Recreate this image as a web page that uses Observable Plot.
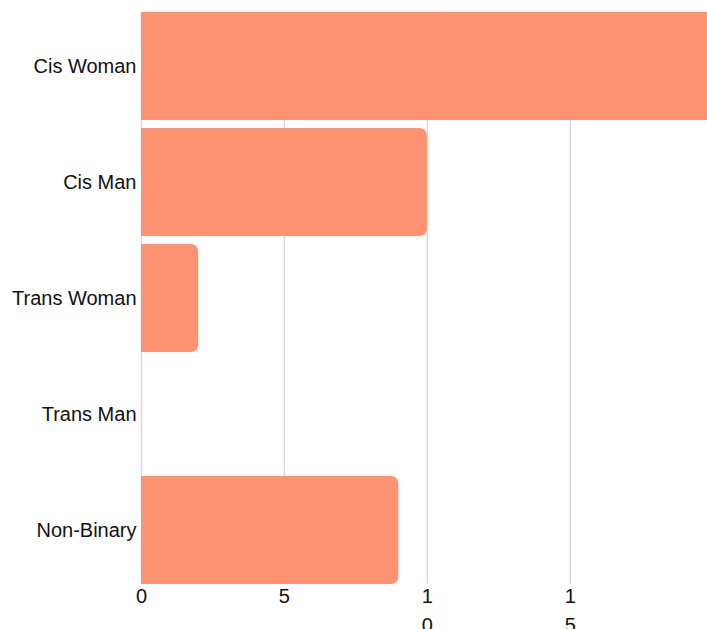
<!DOCTYPE html>
<html>
<head>
<meta charset="utf-8">
<script src="https://cdn.jsdelivr.net/npm/d3@7"></script>
<script src="https://cdn.jsdelivr.net/npm/@observablehq/plot@0.6"></script>
<style>
  html, body { margin: 0; padding: 0; background: #fff; overflow: hidden; }
  #chart svg { display: block; }
</style>
</head>
<body>
<div id="chart"></div>
<script>
const categories = ["Cis Woman", "Cis Man", "Trans Woman", "Trans Man", "Non-Binary"];
const counts = [21, 10, 2, 0, 9];
const xTicks = [0, 5, 10, 15];

const data = categories.map((c, i) => ({category: c, count: counts[i]}));

const chart = Plot.plot({
  width: 707,
  height: 629,
  marginTop: 12,
  marginBottom: 45,
  marginLeft: 141,
  marginRight: 0,
  style: {fontFamily: "'Liberation Sans', Arial, sans-serif", fontSize: "20px", color: "#111"},
  x: {domain: [0, 19.8], ticks: xTicks},
  y: {domain: categories, paddingInner: 0.069, paddingOuter: 0, round: false, label: null},
  marks: [
    Plot.gridX(xTicks, {stroke: "#d9d9d9", strokeOpacity: 1, strokeWidth: 1.5}),
    Plot.barX(data, {y: "category", x1: 0, x2: "count", fill: "#ff9273", rx: 7, clip: true}),
    Plot.barX(data, {y: "category", x1: 0, x2: d => d.count / 2, fill: "#ff9273", clip: true}),
    Plot.axisX({ticks: xTicks, tickSize: 0, tickPadding: -2, lineHeight: 1.45, label: null,
      tickFormat: d => String(d).split("").join("\n"), fontSize: 20}),
    Plot.axisY({tickSize: 0, tickPadding: 5, label: null, fontSize: 20})
  ]
});
document.getElementById("chart").appendChild(chart);
</script>
</body>
</html>
